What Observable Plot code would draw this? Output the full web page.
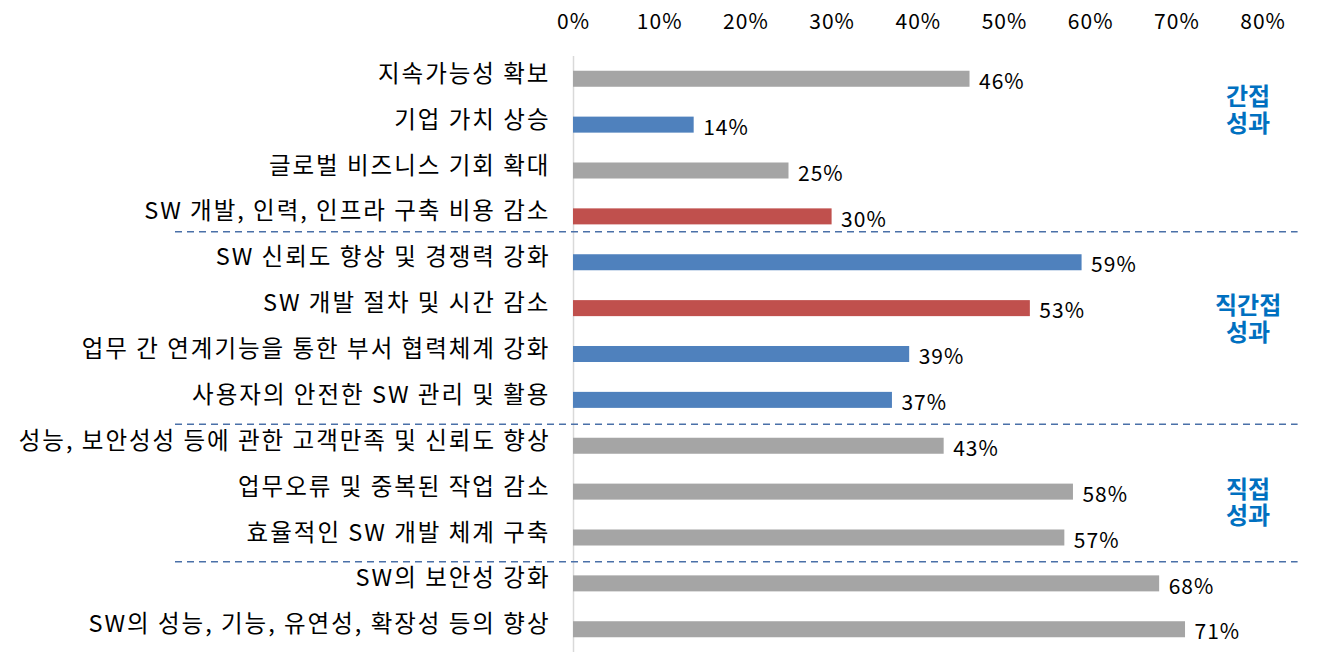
<!DOCTYPE html>
<html>
<head>
<meta charset="utf-8">
<script src="https://cdn.jsdelivr.net/npm/d3@7"></script>
<script src="https://cdn.jsdelivr.net/npm/@observablehq/plot@0.6"></script>
<style>
  html, body { margin: 0; padding: 0; background: #fff; }
  #chart svg { display: block; }
  #chart g[font-size="23.5"] text { letter-spacing: 2px; }
  #chart g[font-size="21"] text { letter-spacing: 1px; }
</style>
</head>
<body>
<div id="chart"></div>
<script>
const categories = [
  "지속가능성 확보",
  "기업 가치 상승",
  "글로벌 비즈니스 기회 확대",
  "SW 개발, 인력, 인프라 구축 비용 감소",
  "SW 신뢰도 향상 및 경쟁력 강화",
  "SW 개발 절차 및 시간 감소",
  "업무 간 연계기능을 통한 부서 협력체계 강화",
  "사용자의 안전한 SW 관리 및 활용",
  "성능, 보안성성 등에 관한 고객만족 및 신뢰도 향상",
  "업무오류 및 중복된 작업 감소",
  "효율적인 SW 개발 체계 구축",
  "SW의 보안성 강화",
  "SW의 성능, 기능, 유연성, 확장성 등의 향상"
];
const values = [46, 14, 25, 30, 59, 53, 39, 37, 43, 58, 57, 68, 71];
const kinds = ["base", "accentA", "base", "accentB", "accentA", "accentB", "accentA", "accentA", "base", "base", "base", "base", "base"];
const xTicks = [0, 10, 20, 30, 40, 50, 60, 70, 80];
const groupLabels = ["간접\n성과", "직간접\n성과", "직접\n성과"];
const groupAnchors = ["기업 가치 상승", "SW 개발 절차 및 시간 감소", "업무오류 및 중복된 작업 감소"];
const separatorsBefore = ["SW 신뢰도 향상 및 경쟁력 강화", "성능, 보안성성 등에 관한 고객만족 및 신뢰도 향상", "SW의 보안성 강화"];

const data = categories.map((c, i) => ({category: c, value: values[i], kind: kinds[i]}));

const FONT = "'Noto Sans CJK KR', 'Noto Sans', sans-serif";
const sepDy = [-31, -22, -22];
const groupDy = [-15, 10.5, 10.5];

const marks = [
  Plot.ruleX([0], {stroke: "#D9D9D9", strokeWidth: 1.5}),
  Plot.barX(data, {x: "value", y: "category", fill: "kind"}),
  Plot.text(data, {x: 0, y: "category", text: "category", textAnchor: "end", dx: -23, dy: -5, fontSize: 23.5, fill: "#000"}),
  Plot.text(data, {x: "value", y: "category", text: d => d.value + "%", textAnchor: "start", dx: 9, dy: 3, fontSize: 21, fill: "#000"}),
  Plot.axisX(xTicks, {anchor: "top", tickSize: 0, tickPadding: 28, tickFormat: d => d + "%", fontSize: 21, fill: "#000", label: null})
];
separatorsBefore.forEach((s, i) => {
  marks.push(Plot.ruleY([s], {y: d => d, stroke: "#4A70A8", strokeWidth: 1.5, strokeDasharray: "7,5", dy: sepDy[i], insetLeft: -398, insetRight: -35}));
});
groupLabels.forEach((g, i) => {
  marks.push(Plot.text([g], {text: d => d, y: () => groupAnchors[i], frameAnchor: "right", dx: -15, dy: groupDy[i], textAnchor: "middle", lineHeight: 1.1, fontSize: 24, fontWeight: "bold", fill: "#0070C0"}));
});

const chart = Plot.plot({
  width: 1317,
  height: 662,
  marginLeft: 573,
  marginRight: 54.4,
  marginTop: 56,
  marginBottom: 10,
  style: {fontFamily: FONT, background: "#fff", overflow: "visible"},
  x: {domain: [0, 80], axis: null, label: null},
  y: {domain: categories, paddingInner: 0.651, paddingOuter: 0.3215, round: false, axis: null},
  color: {domain: ["base", "accentA", "accentB"], range: ["#A5A5A5", "#4F81BD", "#C0504D"]},
  marks
});
document.getElementById("chart").appendChild(chart);
</script>
</body>
</html>
